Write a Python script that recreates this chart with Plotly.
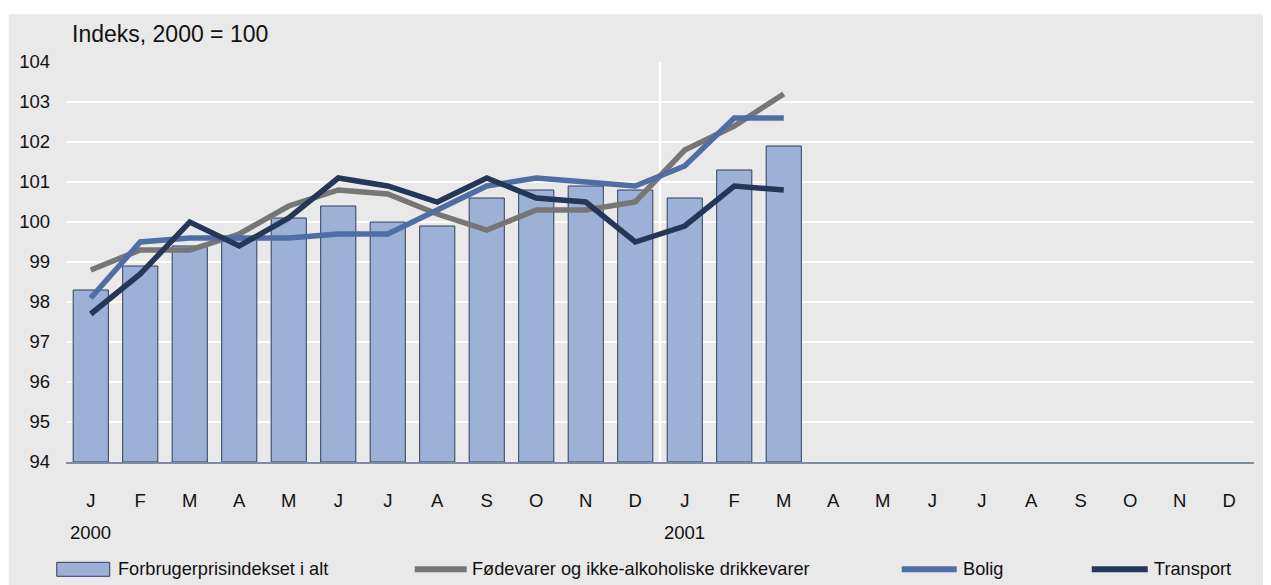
import plotly.graph_objects as go

months = ["J", "F", "M", "A", "M", "J", "J", "A", "S", "O", "N", "D",
          "J", "F", "M", "A", "M", "J", "J", "A", "S", "O", "N", "D"]
years = ["2000", "2001"]
cpi_total = [98.3, 98.9, 99.4, 99.6, 100.1, 100.4, 100.0, 99.9, 100.6, 100.8, 100.9, 100.8,
             100.6, 101.3, 101.9]
food = [98.8, 99.3, 99.3, 99.7, 100.4, 100.8, 100.7, 100.2, 99.8, 100.3, 100.3, 100.5,
        101.8, 102.4, 103.2]
housing = [98.1, 99.5, 99.6, 99.6, 99.6, 99.7, 99.7, 100.3, 100.9, 101.1, 101.0, 100.9,
           101.4, 102.6, 102.6]
transport = [97.7, 98.7, 100.0, 99.4, 100.1, 101.1, 100.9, 100.5, 101.1, 100.6, 100.5, 99.5,
             99.9, 100.9, 100.8]
names = ["Forbrugerprisindekset i alt", "Fødevarer og ikke-alkoholiske drikkevarer",
         "Bolig", "Transport"]

FONT = "Liberation Sans Narrow, Arial Narrow, Liberation Sans, Arial, sans-serif"
BAR_FILL = "#9db0d5"
BAR_LINE = "#2e3f5f"
GRAY = "#767676"
BLUE = "#4e6ea5"
NAVY = "#253757"
TXT = "#111111"

# page is shifted by the default 8px body margin
OFF = 8
W, H = 1271 - OFF, 585 - OFF
PL, PR, PT, PB = 66.25, 1254.25, 61.7, 461.7  # plot area in page pixels
PW, PH = PR - PL, PB - PT


def px(x):
    return (x - PL) / PW


def py(y):
    return (PB - y) / PH


xs = list(range(len(months)))
n = len(cpi_total)

fig = go.Figure()
fig.add_trace(go.Bar(x=xs[:n], y=[v - 94 for v in cpi_total], base=94, name=names[0],
                     marker=dict(color=BAR_FILL, line=dict(color=BAR_LINE, width=1)),
                     showlegend=False))
for vals, col, nm in [(food, GRAY, names[1]), (housing, BLUE, names[2]), (transport, NAVY, names[3])]:
    fig.add_trace(go.Scatter(x=xs[:n], y=vals, mode="lines", name=nm,
                             line=dict(color=col, width=5.5), showlegend=False))

shapes = []
shapes.append(dict(type="rect", xref="paper", yref="paper", x0=px(9), x1=px(1275),
                   y0=py(590), y1=py(14), fillcolor="#e9e9e9",
                   line=dict(width=0), layer="below"))
shapes.append(dict(type="line", xref="x", yref="paper", x0=11.5, x1=11.5, y0=0, y1=1,
                   line=dict(color="white", width=2.5), layer="below"))

leg_y = 569
shapes.append(dict(type="rect", xref="paper", yref="paper", x0=px(57), x1=px(110),
                   y0=py(576), y1=py(562), fillcolor=BAR_FILL,
                   line=dict(color=BAR_LINE, width=1)))
for x0, x1, col in [(415, 467, GRAY), (902, 957, BLUE), (1092, 1148, NAVY)]:
    shapes.append(dict(type="line", xref="paper", yref="paper", x0=px(x0), x1=px(x1),
                       y0=py(leg_y), y1=py(leg_y), line=dict(color=col, width=6)))

annotations = []
for x, txt in [(116, names[0]), (470, names[1]), (961, names[2]), (1152, names[3])]:
    annotations.append(dict(xref="paper", yref="paper", x=px(x), y=py(leg_y), text=txt,
                            showarrow=False, xanchor="left", yanchor="middle",
                            font=dict(size=18.2, color=TXT, family=FONT)))
for i, yr in enumerate(years):
    annotations.append(dict(xref="x", yref="paper", x=12 * i, y=py(532), text=yr,
                            showarrow=False, xanchor="center", yanchor="middle",
                            font=dict(size=18.5, color=TXT, family=FONT)))
annotations.append(dict(xref="paper", yref="paper", x=px(70), y=py(34), text="Indeks, 2000 = 100",
                        showarrow=False, xanchor="left", yanchor="middle",
                        font=dict(size=23, color=TXT, family=FONT)))

fig.update_layout(
    width=W, height=H,
    margin=dict(l=PL - OFF, r=W - (PR - OFF), t=PT - OFF, b=H - (PB - OFF)),
    paper_bgcolor="white", plot_bgcolor="#dcdcdc",
    bargap=0.29,
    font=dict(family=FONT, size=18.5, color=TXT),
    shapes=shapes, annotations=annotations,
    xaxis=dict(range=[-0.5, 23.5], tickvals=xs, ticktext=months, showgrid=False,
               showline=True, linecolor="#7f8ca3", linewidth=1.5, ticks="",
               ticklabelstandoff=21, zeroline=False, fixedrange=True),
    yaxis=dict(range=[94, 104], dtick=1, showgrid=True, gridcolor="white", gridwidth=2,
               ticks="", zeroline=False, ticklabelstandoff=15, fixedrange=True),
)
fig.write_html("out.html")
